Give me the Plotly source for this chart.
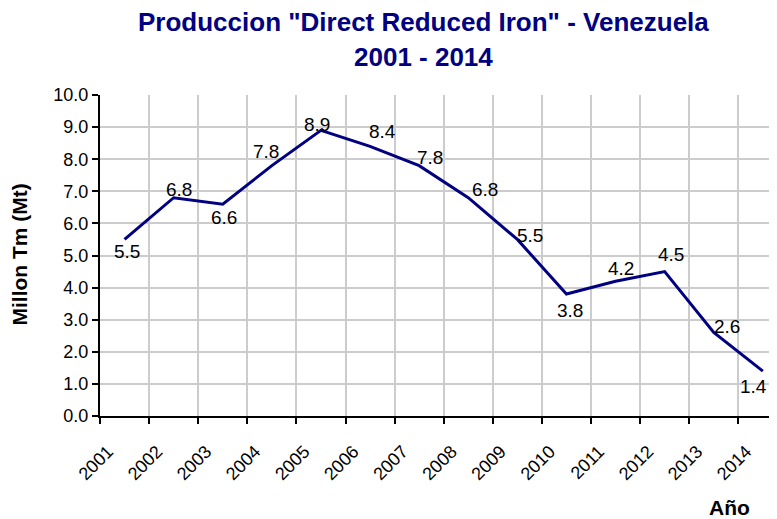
import plotly.graph_objects as go

years = [2001, 2002, 2003, 2004, 2005, 2006, 2007, 2008, 2009, 2010, 2011, 2012, 2013, 2014]
production = [5.5, 6.8, 6.6, 7.8, 8.9, 8.4, 7.8, 6.8, 5.5, 3.8, 4.2, 4.5, 2.6, 1.4]
year_labels = [str(y) for y in years]
y_ticks = [0, 1, 2, 3, 4, 5, 6, 7, 8, 9, 10]
title_lines = ["Produccion \"Direct Reduced Iron\" - Venezuela", "2001 - 2014"]

# label offsets (pixels) relative to each point: (xshift, yshift)
label_offsets = [(2, -12), (5, 8), (1, -13), (-6, 14), (-4, 6), (12, 15), (11, 8),
                 (17, 8), (13, 4), (4, -16), (5, 13), (6, 17), (13, 6), (-9, -15)]

FONT = "Liberation Sans, Arial, sans-serif"
NAVY = "#000080"

# page body has an 8px margin; compensate so the plot sits where the reference has it
PAGE_OFF = 8
VISIBLE_W = 769
W, H = VISIBLE_W - PAGE_OFF, 519 - PAGE_OFF
ML, MT = 100 - PAGE_OFF, 95 - PAGE_OFF
PLOT_W, PLOT_H = W - ML, 321
MB = H - MT - PLOT_H
TICK_PX = 49.1

# points sit midway between year ticks
xpos = [y + 0.5 for y in years]

fig = go.Figure()
fig.add_trace(go.Scatter(
    x=xpos, y=production, mode="lines",
    line=dict(color=NAVY, width=3),
    hoverinfo="skip", showlegend=False,
))

for x, v, (dx, dy) in zip(xpos, production, label_offsets):
    fig.add_annotation(x=x, y=v, text=f"{v:.1f}", showarrow=False,
                       xshift=dx, yshift=dy,
                       font=dict(family=FONT, size=19, color="#000000"))

def px_x(px):
    return (px - 100) / PLOT_W

def px_y(py):
    return (416 - py) / PLOT_H

for txt, cy in zip(title_lines, [22, 57]):
    fig.add_annotation(xref="paper", yref="paper", x=px_x(423.5), y=px_y(cy),
                       text=f"<b>{txt}</b>", showarrow=False,
                       xanchor="center", yanchor="middle",
                       font=dict(family=FONT, size=26, color=NAVY))

fig.add_annotation(xref="paper", yref="paper", x=px_x(19), y=px_y(254.5),
                   text="<b>Millon Tm (Mt)</b>", textangle=-90, showarrow=False,
                   xanchor="center", yanchor="middle",
                   font=dict(family=FONT, size=21, color="#000000"))
fig.add_annotation(xref="paper", yref="paper", x=px_x(729), y=px_y(507),
                   text="<b>Año</b>", showarrow=False,
                   xanchor="center", yanchor="middle",
                   font=dict(family=FONT, size=21, color="#000000"))

fig.update_layout(
    width=W, height=H,
    margin=dict(l=ML, r=0, t=MT, b=MB),
    paper_bgcolor="white", plot_bgcolor="white",
    xaxis=dict(
        range=[2001, 2001 + PLOT_W / TICK_PX],
        tickvals=years, ticktext=year_labels, tickangle=-45,
        showgrid=True, gridcolor="#cccccc", gridwidth=1.5,
        showline=True, linecolor="black", linewidth=2,
        ticks="outside", ticklen=6, tickwidth=2, tickcolor="black",
        ticklabelshift=8, ticklabelstandoff=10,
        tickfont=dict(family=FONT, size=18, color="#000000"),
        zeroline=False, fixedrange=True, automargin=False,
    ),
    yaxis=dict(
        range=[0, 10], tickvals=y_ticks, tickformat=".1f",
        showgrid=True, gridcolor="#cccccc", gridwidth=1.5,
        showline=True, linecolor="black", linewidth=2,
        ticks="outside", ticklen=6, tickwidth=2, tickcolor="black",
        tickfont=dict(family=FONT, size=18, color="#000000"),
        zeroline=False, fixedrange=True, automargin=False,
    ),
)

fig.write_html("out.html")
